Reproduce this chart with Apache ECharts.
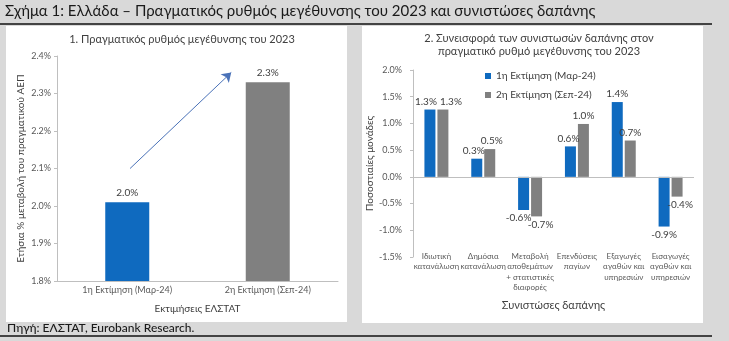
<!DOCTYPE html>
<html>
<head>
<meta charset="utf-8">
<script src="https://cdn.jsdelivr.net/npm/echarts@6/dist/echarts.min.js"></script>
<style>
html,body{margin:0;padding:0;background:#d9d9d9;}
#c{width:729px;height:341px;}
</style>
</head>
<body>
<div id="c"></div>
<script>
// ---- Data ----
const mainTitle = 'Σχήμα 1: Ελλάδα – Πραγματικός ρυθμός μεγέθυνσης του 2023 και συνιστώσες δαπάνης';
const sourceText = 'Πηγή: ΕΛΣΤΑΤ, Eurobank Research.';

const leftTitle = '1. Πραγματικός ρυθμός μεγέθυνσης του 2023';
const leftCategories = ['1η Εκτίμηση (Μαρ-24)', '2η Εκτίμηση (Σεπ-24)'];
const leftValues = [2.01, 2.33];
const leftColors = ['#0f6abf', '#808080'];
const leftXName = 'Εκτιμήσεις ΕΛΣΤΑΤ';
const leftYName = 'Ετήσια % μεταβολή του πραγματικού ΑΕΠ';
const leftYMin = 1.8, leftYMax = 2.4, leftYStep = 0.1;
const arrowFrom = [0.02, 2.1];
const arrowTo = [0.74, 2.356];

const rightTitle = '2. Συνεισφορά των συνιστωσών δαπάνης στον\nπραγματικό ρυθμό μεγέθυνσης του 2023';
const rightCategories = [
  'Ιδιωτική\nκατανάλωση',
  'Δημόσια\nκατανάλωση',
  'Μεταβολή\nαποθεμάτων\n+ στατιστικές\nδιαφορές',
  'Επενδύσεις\nπαγίων',
  'Εξαγωγές\nαγαθών και\nυπηρεσιών',
  'Εισαγωγές\nαγαθών και\nυπηρεσιών'
];
const seriesNames = ['1η Εκτίμηση (Μαρ-24)', '2η Εκτίμηση (Σεπ-24)'];
const firstEstimate = [1.26, 0.34, -0.62, 0.57, 1.40, -0.93];
const secondEstimate = [1.26, 0.52, -0.74, 0.99, 0.68, -0.37];
const rightXName = 'Συνιστώσες δαπάνης';
const rightYName = 'Ποσοστιαίες μονάδες';
const rightYMin = -1.5, rightYMax = 2.0, rightYStep = 0.5;

// ---- Chart ----
const FONT = 'Lato, "Noto Sans", sans-serif';
const axisGrey = '#bfbfbf';
const tickText = '#595959';
const dark = '#404040';

const chart = echarts.init(document.getElementById('c'), null, {renderer:'canvas'});

function pct(v){ return v.toFixed(1) + '%'; }

// label nudges (pixels) so adjacent labels don't collide, per series
const labelNudge = [
  [[-4,0],[-3,0],[-5,0],[-2,0],[0,0],[0,0]],
  [[8,0],[2,0],[4,0],[0,0],[0,0],[3,0]]
];

function buildBarData(values, s) {
  return values.map((v, i) => ({
    value: v,
    label: {position: v < 0 ? 'bottom' : 'top', offset: labelNudge[s][i]}
  }));
}

const option = {
  backgroundColor: '#d9d9d9',
  animation: false,
  textStyle: {fontFamily: FONT},
  graphic: [
    {type:'rect', z:-10, shape:{x:6,y:26,width:341,height:296}, style:{fill:'#ffffff'}},
    {type:'rect', z:-10, shape:{x:362,y:26,width:341,height:297}, style:{fill:'#ffffff'}},
    {type:'text', left:5, top:4, style:{text: mainTitle, font:'15px ' + FONT, fill:'#1a1a1a'}},
    {type:'line', shape:{x1:0,y1:24,x2:712,y2:24}, style:{stroke:'#111111', lineWidth:1.5}},
    {type:'text', left:7, top:322, style:{text: sourceText, font:'500 12px ' + FONT, fill:'#1a1a1a'}},
    {type:'line', shape:{x1:0,y1:336,x2:712,y2:336}, style:{stroke:'#111111', lineWidth:1.5}}
  ],
  title: [
    {text: leftTitle, left: 177, top: 29, textAlign:'center',
     textStyle:{fontSize:11, fontWeight:'normal', color:dark, fontFamily:FONT}},
    {text: rightTitle, left: 534, top: 27, textAlign:'center',
     textStyle:{fontSize:11, fontWeight:'normal', color:dark, fontFamily:FONT, lineHeight:13}}
  ],
  legend: {
    orient:'vertical', left:480, top:66, itemGap:9,
    icon:'rect', itemWidth:6, itemHeight:6,
    data: seriesNames,
    textStyle:{fontSize:10, color:dark, fontFamily:FONT}
  },
  grid: [
    {left:57, right:729-338, top:56, bottom:341-281},
    {left:413, right:729-694, top:70, bottom:341-257}
  ],
  xAxis: [
    {type:'category', gridIndex:0, data:leftCategories,
     axisLine:{onZero:false, lineStyle:{color:axisGrey}}, axisTick:{show:false},
     axisLabel:{fontSize:9, color:tickText, margin:5},
     name:leftXName, nameLocation:'middle', nameGap:23,
     nameTextStyle:{fontSize:10, color:dark}},
    {type:'category', gridIndex:1, data:rightCategories,
     axisLine:{show:false, onZero:false}, axisTick:{show:false},
     axisLabel:{fontSize:8, color:tickText, margin:-6, interval:0, lineHeight:10.5},
     name:rightXName, nameLocation:'middle', nameGap:43,
     nameTextStyle:{fontSize:11, color:dark}},
    {type:'value', gridIndex:0, show:false, min:-0.5, max:1.5}
  ],
  yAxis: [
    {type:'value', gridIndex:0, min:leftYMin, max:leftYMax, interval:leftYStep,
     axisLine:{show:true, onZero:false, lineStyle:{color:axisGrey}},
     axisTick:{show:true, length:3, lineStyle:{color:axisGrey}},
     splitLine:{show:false},
     axisLabel:{fontSize:9, color:tickText, margin:6, formatter:v => v.toFixed(1) + '%'},
     name:leftYName, nameLocation:'middle', nameGap:31,
     nameTextStyle:{fontSize:10, color:dark}},
    {type:'value', gridIndex:1, min:rightYMin, max:rightYMax, interval:rightYStep,
     axisLine:{show:true, onZero:false, lineStyle:{color:axisGrey}},
     axisTick:{show:true, length:3, lineStyle:{color:axisGrey}},
     splitLine:{show:false},
     axisLabel:{fontSize:9, color:tickText, margin:11, formatter:v => v.toFixed(1) + '%'},
     name:rightYName, nameLocation:'middle', nameGap:31,
     nameTextStyle:{fontSize:10, color:dark}}
  ],
  series: [
    {type:'bar', xAxisIndex:0, yAxisIndex:0, barWidth:44,
     data: leftValues.map((v,i) => ({value:v, itemStyle:{color:leftColors[i]}})),
     label:{show:true, position:'top', distance:4, fontSize:10, color:dark,
            formatter:p => pct(p.value)}},
    {type:'lines', coordinateSystem:'cartesian2d', xAxisIndex:2, yAxisIndex:0,
     symbol:['none','arrow'], symbolSize:9, silent:true,
     lineStyle:{color:'#4a72b8', width:1, opacity:1},
     data:[{coords:[arrowFrom, arrowTo]}]},
    {name:seriesNames[0], type:'bar', xAxisIndex:1, yAxisIndex:1,
     barWidth:11, barGap:'18%', itemStyle:{color:'#0f6abf'},
     data:buildBarData(firstEstimate, 0),
     label:{show:true, distance:3, fontSize:10, color:dark,
            formatter:p => pct(p.value)},
     markLine:{silent:true, symbol:'none', label:{show:false},
               lineStyle:{color:axisGrey, type:'solid', width:1},
               data:[{yAxis:0}]}},
    {name:seriesNames[1], type:'bar', xAxisIndex:1, yAxisIndex:1,
     barWidth:11, itemStyle:{color:'#808080'},
     data:buildBarData(secondEstimate, 1),
     label:{show:true, distance:3, fontSize:10, color:dark,
            formatter:p => pct(p.value)}}
  ]
};

chart.setOption(option);
</script>
</body>
</html>
